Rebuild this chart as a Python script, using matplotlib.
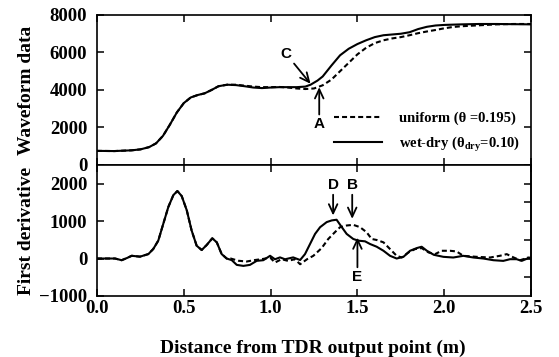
import numpy as np
import matplotlib
matplotlib.use("Agg")
import matplotlib.pyplot as plt

# waveform (top panel)
x_wave_wd = [0.0, 0.1, 0.2, 0.25, 0.3, 0.34, 0.38, 0.42, 0.46, 0.5, 0.54, 0.58, 0.62, 0.66,
             0.7, 0.75, 0.8, 0.85, 0.9, 0.95, 1.0, 1.05, 1.1, 1.15, 1.2, 1.23, 1.27, 1.3,
             1.35, 1.4, 1.45, 1.5, 1.55, 1.6, 1.65, 1.7, 1.75, 1.8, 1.85, 1.9, 1.95, 2.0,
             2.1, 2.2, 2.3, 2.4, 2.5]
wave_wd = [750, 740, 780, 830, 950, 1150, 1550, 2150, 2800, 3300, 3600, 3730, 3820, 4000,
           4200, 4280, 4260, 4200, 4130, 4100, 4130, 4150, 4150, 4150, 4180, 4280, 4500, 4720,
           5300, 5850, 6200, 6450, 6650, 6820, 6920, 6960, 7000, 7080, 7250, 7370, 7440, 7470,
           7500, 7520, 7520, 7510, 7500]

x_wave_uni = [0.0, 0.1, 0.2, 0.25, 0.3, 0.34, 0.38, 0.42, 0.46, 0.5, 0.54, 0.58, 0.62, 0.66,
              0.7, 0.75, 0.8, 0.85, 0.9, 0.95, 1.0, 1.05, 1.1, 1.15, 1.2, 1.25, 1.3, 1.35,
              1.4, 1.45, 1.5, 1.55, 1.6, 1.65, 1.7, 1.75, 1.8, 1.85, 1.9, 1.95, 2.0, 2.05,
              2.1, 2.2, 2.3, 2.4, 2.5]
wave_uni = [750, 740, 780, 830, 950, 1150, 1550, 2150, 2800, 3300, 3600, 3730, 3820, 4000,
            4200, 4280, 4280, 4230, 4180, 4150, 4150, 4160, 4130, 4080, 4050, 4080, 4250, 4550,
            5000, 5450, 5900, 6250, 6500, 6650, 6750, 6820, 6920, 7030, 7120, 7200, 7290, 7360,
            7400, 7450, 7500, 7520, 7520]

# first derivative (bottom panel)
x_der_wd = [0.0, 0.056, 0.104, 0.142, 0.171, 0.2, 0.248, 0.296, 0.324, 0.353, 0.382, 0.411,
            0.44, 0.463, 0.488, 0.517, 0.545, 0.574, 0.603, 0.632, 0.664, 0.69, 0.718, 0.747,
            0.776, 0.805, 0.843, 0.881, 0.92, 0.958, 0.997, 1.025, 1.054, 1.083, 1.13, 1.17,
            1.198, 1.227, 1.256, 1.285, 1.323, 1.352, 1.38, 1.41, 1.438, 1.476, 1.505, 1.544,
            1.573, 1.611, 1.65, 1.688, 1.726, 1.765, 1.803, 1.842, 1.87, 1.9, 1.94, 1.995,
            2.052, 2.11, 2.168, 2.225, 2.283, 2.34, 2.379, 2.417, 2.446, 2.484, 2.5]
der_wd = [0, 0, 0, -45, 10, 73, 50, 119, 254, 478, 930, 1378,
          1695, 1803, 1668, 1290, 750, 343, 227, 362, 540, 432, 119, 0,
          -43, -170, -197, -170, -62, -45, 73, -20, 30, -20, 30, -40,
          117, 387, 657, 837, 973, 1018, 1036, 837, 657, 522, 477, 459,
          387, 315, 207, 72, 0, 45, 207, 279, 315, 207, 99, 45,
          27, 72, 27, 0, -45, -63, -18, -18, -63, 9, 0]

x_der_uni = [0.0, 0.056, 0.104, 0.142, 0.171, 0.2, 0.248, 0.296, 0.324, 0.353, 0.382, 0.411,
             0.44, 0.463, 0.488, 0.517, 0.545, 0.574, 0.603, 0.632, 0.664, 0.69, 0.718, 0.747,
             0.77, 0.815, 0.862, 0.91, 0.958, 0.997, 1.025, 1.063, 1.10, 1.14, 1.17, 1.21,
             1.246, 1.294, 1.332, 1.37, 1.4, 1.438, 1.476, 1.515, 1.553, 1.582, 1.611, 1.65,
             1.688, 1.726, 1.755, 1.794, 1.832, 1.87, 1.91, 1.947, 1.985, 2.033, 2.071, 2.11,
             2.187, 2.264, 2.32, 2.36, 2.4, 2.437, 2.484, 2.5]
der_uni = [0, 0, 0, -45, 10, 73, 50, 119, 254, 478, 930, 1378,
           1695, 1803, 1668, 1290, 750, 343, 227, 362, 540, 432, 119, 0,
           0, -60, -80, -40, -10, 27, -108, -18, -63, -18, -153, -18,
           72, 279, 522, 702, 837, 882, 900, 837, 702, 522, 495, 432,
           252, 72, 27, 162, 252, 279, 162, 117, 207, 207, 189, 72,
           45, 27, 72, 117, 27, -45, 27, 20]

lbl_uniform = "uniform (θ =0.195)"
lbl_wetdry = r"wet-dry (θ$_{\mathbf{dry}}$=0.10)"

plt.rcParams["font.family"] = ["Liberation Serif", "DejaVu Serif"]
plt.rcParams["font.weight"] = "bold"
plt.rcParams["mathtext.fontset"] = "custom"
plt.rcParams["mathtext.rm"] = "Liberation Serif:bold"
plt.rcParams["mathtext.bf"] = "Liberation Serif:bold"
plt.rcParams["lines.scale_dashes"] = False

DASH = (3.6, 2.2)
LW = 1.5
ARROW_FONT = dict(family="Liberation Sans", weight="bold", fontsize=11)
ARROW = dict(arrowstyle="->,head_length=0.6,head_width=0.28", lw=1.3, color="black",
             shrinkA=0, shrinkB=0)


def style_axis(ax):
    ax.set_xlim(0, 2.5)
    ax.set_xticks([0, 0.5, 1.0, 1.5, 2.0, 2.5])
    ax.tick_params(direction="in", length=5, width=1.1, top=True, labelsize=13.5, pad=7)
    ax.tick_params(axis="x", pad=3)
    for s in ax.spines.values():
        s.set_linewidth(1.2)


fig = plt.figure(figsize=(5.59, 3.57), dpi=100)
ax1 = fig.add_axes([0.1735, 0.538, 0.7765, 0.42])
ax2 = fig.add_axes([0.1735, 0.171, 0.7765, 0.367])

# top: waveform
ax1.plot(x_wave_uni, wave_uni, color="black", lw=LW, dashes=DASH, label=lbl_uniform)
ax1.plot(x_wave_wd, wave_wd, color="black", lw=LW, label=lbl_wetdry)
style_axis(ax1)
ax1.set_ylim(0, 8000)
ax1.set_yticks([0, 2000, 4000, 6000, 8000])
ax1.tick_params(right=True, labelbottom=False)
ax1.set_ylabel("Waveform data", fontsize=14, fontweight="bold")
ax1.yaxis.set_label_coords(-0.142, 0.5)
ax1.legend(loc="upper left", bbox_to_anchor=(0.545, 0.355), frameon=False, fontsize=10.5,
           handlelength=3.3, handletextpad=1.2, labelspacing=0.65, borderpad=0,
           borderaxespad=0)

ax1.annotate("C", xy=(1.23, 4330), xytext=(1.09, 5930), ha="center", va="center",
             arrowprops=dict(ARROW, relpos=(0.9, 0.1)), **ARROW_FONT)
ax1.annotate("A", xy=(1.28, 4150), xytext=(1.28, 2170), ha="center", va="center",
             arrowprops=dict(ARROW, relpos=(0.5, 1.1)), **ARROW_FONT)

# bottom: first derivative
ax2.plot(x_der_uni, der_uni, color="black", lw=LW, dashes=DASH)
ax2.plot(x_der_wd, der_wd, color="black", lw=LW)
style_axis(ax2)
ax2.set_ylim(-1000, 2500)
ax2.set_yticks([-1000, 0, 1000, 2000])
ax2.tick_params(right=False)
ax2.set_xticklabels(["0.0", "0.5", "1.0", "1.5", "2.0", "2.5"])
sec = ax2.secondary_yaxis("right")
sec.set_yticks([-500, 0, 500, 1000, 1500, 2000])
sec.tick_params(direction="in", length=5, width=1.1, labelright=False)
sec.spines["right"].set_linewidth(1.2)
ax2.set_ylabel("First derivative", fontsize=14, fontweight="bold")
ax2.yaxis.set_label_coords(-0.142, 0.5)

ax2.annotate("D", xy=(1.36, 1150), xytext=(1.36, 1965), ha="center", va="center",
             arrowprops=dict(ARROW, relpos=(0.5, 0.0)), **ARROW_FONT)
ax2.annotate("B", xy=(1.47, 1060), xytext=(1.47, 1965), ha="center", va="center",
             arrowprops=dict(ARROW, relpos=(0.5, 0.0)), **ARROW_FONT)
ax2.annotate("E", xy=(1.50, 560), xytext=(1.50, -495), ha="center", va="center",
             arrowprops=dict(ARROW, relpos=(0.5, 1.0)), **ARROW_FONT)

fig.text(0.56, 1 - 348 / 357, "Distance from TDR output point (m)", ha="center",
         va="center", fontsize=14, fontweight="bold")

plt.savefig("out.png", dpi=100)
